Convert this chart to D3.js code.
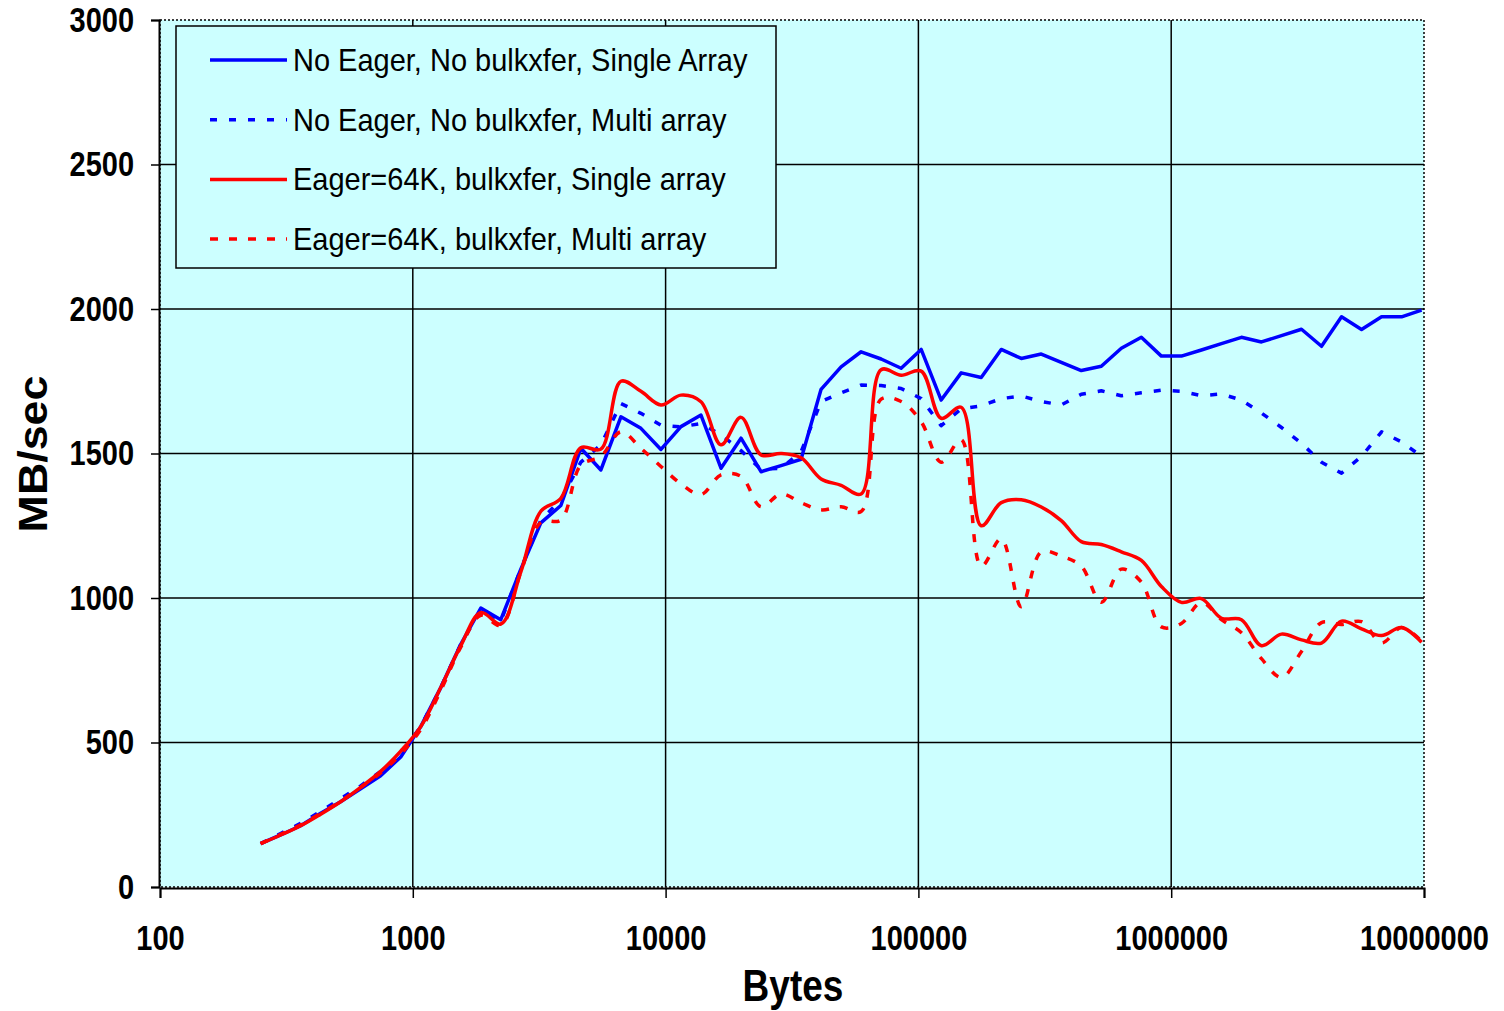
<!DOCTYPE html>
<html lang="en">
<head>
<meta charset="UTF-8">
<title>MB/sec vs Bytes</title>
<script src="https://d3js.org/d3.v7.min.js"></script>
<style>
  body { margin: 0; background: #fff; }
  text { font-family: "Liberation Sans", Arial, sans-serif; fill: #000; }
  .tall { transform-box: fill-box; transform-origin: center; transform: scaleY(1.18); }
</style>
</head>
<body>
<div id="chart"></div>
<script>
// message sizes in bytes (x)
const sizes = [250, 300, 360, 432, 518, 622, 746, 896, 1075, 1290,
  1548, 1858, 2229, 2675, 3210, 3852, 4622, 5547, 6656, 7987,
  9585, 11502, 13802, 16562, 19875, 23850, 28620, 34344, 41213, 49456,
  59347, 71216, 85460, 102552, 123062, 147674, 177209, 212651, 255181, 306217,
  367461, 440953, 529143, 634972, 761966, 914360, 1097232, 1316678, 1580014, 1896016,
  2275220, 2730264, 3276317, 3931580, 4717896, 5661475, 6793770, 8152524, 9783029];

// MB/sec for each series
const noEagerSingle = [150, 180, 212, 255, 295, 340, 385, 450, 555, 690,
  840, 965, 925, 1100, 1260, 1320, 1518, 1443, 1627, 1587,
  1514, 1593, 1633, 1449, 1553, 1437, 1458, 1480, 1722, 1800,
  1852, 1827, 1795, 1860, 1685, 1779, 1763, 1860, 1829, 1844,
  1815, 1787, 1802, 1864, 1902, 1837, 1837, 1858, 1880, 1902,
  1886, 1908, 1930, 1871, 1973, 1929, 1973, 1973, 1996];

const noEagerMulti = [150, 185, 220, 262, 305, 350, 400, 460, 555, 690,
  840, 960, 920, 1100, 1270, 1340, 1470, 1530, 1673, 1639,
  1598, 1592, 1604, 1565, 1510, 1445, 1449, 1506, 1680, 1710,
  1737, 1735, 1725, 1690, 1596, 1655, 1665, 1690, 1699, 1680,
  1668, 1705, 1717, 1700, 1710, 1719, 1715, 1700, 1706, 1685,
  1640, 1590, 1535, 1470, 1432, 1490, 1575, 1540, 1490];

const eagerSingle = [150, 180, 212, 252, 295, 345, 400, 470, 555, 690,
  835, 950, 910, 1090, 1300, 1345, 1520, 1515, 1750, 1715,
  1668, 1702, 1679, 1530, 1625, 1495, 1500, 1485, 1412, 1390,
  1360, 1790, 1771, 1785, 1622, 1660, 1250, 1330, 1340, 1315,
  1268, 1195, 1185, 1160, 1130, 1040, 985, 998, 930, 925,
  835, 875, 855, 844, 920, 893, 870, 898, 847];

const eagerMulti = [150, 182, 215, 255, 297, 345, 395, 460, 545, 680,
  830, 940, 905, 1090, 1262, 1270, 1460, 1490, 1575, 1518,
  1455, 1395, 1358, 1426, 1421, 1316, 1360, 1330, 1305, 1316,
  1299, 1688, 1680, 1610, 1470, 1548, 1110, 1205, 970, 1160,
  1145, 1110, 985, 1100, 1055, 900, 912, 985, 925, 880,
  790, 725, 815, 915, 908, 918, 845, 898, 850];

const seriesNames = [
  "No Eager, No bulkxfer, Single Array",
  "No Eager, No bulkxfer, Multi array",
  "Eager=64K, bulkxfer, Single array",
  "Eager=64K, bulkxfer, Multi array"
];

const xTicks = [100, 1000, 10000, 100000, 1000000, 10000000];
const yTicks = [0, 500, 1000, 1500, 2000, 2500, 3000];

const series = [
  { name: seriesNames[0], values: noEagerSingle, color: "#0000ff", dash: null, smooth: false },
  { name: seriesNames[1], values: noEagerMulti, color: "#0000ff", dash: "7,12", smooth: false },
  { name: seriesNames[2], values: eagerSingle, color: "#ff0000", dash: null, smooth: true },
  { name: seriesNames[3], values: eagerMulti, color: "#ff0000", dash: "8,11", smooth: true }
];

const width = 1504, height = 1011;
const plotL = 160, plotR = 1424, plotT = 20, plotB = 887;

const svg = d3.select("#chart").append("svg")
  .attr("width", width)
  .attr("height", height);

const x = d3.scaleLog().domain([100, 10000000]).range([plotL, plotR]);
const y = d3.scaleLinear().domain([0, 3000]).range([plotB, plotT]);

// plot background + dotted border
svg.append("rect")
  .attr("x", plotL).attr("y", plotT)
  .attr("width", plotR - plotL).attr("height", plotB - plotT)
  .attr("fill", "#ccffff")
  .attr("stroke", "#000")
  .attr("stroke-width", 1.5)
  .attr("stroke-dasharray", "2,2");

// grid lines
const grid = svg.append("g");
grid.selectAll(".hg")
  .data(yTicks.filter(d => d > 0 && d < 3000))
  .enter().append("line")
  .attr("x1", plotL).attr("x2", plotR)
  .attr("y1", d => y(d)).attr("y2", d => y(d))
  .attr("stroke", "#000").attr("stroke-width", 1.5);
grid.selectAll(".vg")
  .data(xTicks.filter(d => d > 100 && d < 10000000))
  .enter().append("line")
  .attr("y1", plotT).attr("y2", plotB)
  .attr("x1", d => x(d)).attr("x2", d => x(d))
  .attr("stroke", "#000").attr("stroke-width", 1.5);

// axes
const yAxis = d3.axisLeft(y).tickValues(yTicks).tickSize(8).tickPadding(17)
  .tickFormat(d3.format("d"));
const xAxis = d3.axisBottom(x).tickValues(xTicks).tickSize(10).tickPadding(24)
  .tickFormat(d3.format("d"));

const gy = svg.append("g").attr("transform", `translate(${plotL - 1},0)`).call(yAxis);
const gx = svg.append("g").attr("transform", `translate(0,${plotB + 1})`).call(xAxis);

[gy, gx].forEach(g => {
  g.select(".domain").attr("stroke", "#000").attr("stroke-width", 2);
  g.selectAll(".tick line").attr("stroke", "#000").attr("stroke-width", 1.5);
  g.selectAll(".tick text")
    .attr("class", "tall")
    .attr("font-family", "'Liberation Sans', Arial, sans-serif")
    .attr("font-size", 29)
    .attr("font-weight", "bold")
    .attr("fill", "#000");
});
gx.selectAll(".tick text").attr("dy", "0.9em");

// series lines
svg.append("clipPath").attr("id", "plotclip")
  .append("rect").attr("x", plotL).attr("y", plotT)
  .attr("width", plotR - plotL + 2).attr("height", plotB - plotT);

const lines = svg.append("g").attr("clip-path", "url(#plotclip)");
series.forEach(s => {
  const line = d3.line()
    .x((d, i) => x(sizes[i]))
    .y(d => y(d))
    .curve(s.smooth ? d3.curveCatmullRom.alpha(0.5) : d3.curveLinear);
  lines.append("path")
    .datum(s.values)
    .attr("d", line)
    .attr("fill", "none")
    .attr("stroke", s.color)
    .attr("stroke-width", 3.5)
    .attr("stroke-linejoin", "round")
    .attr("stroke-dasharray", s.dash);
});

// axis titles
svg.append("text")
  .attr("class", "tall")
  .attr("x", (plotL + plotR) / 2 + 1)
  .attr("y", 999)
  .attr("text-anchor", "middle")
  .attr("font-size", 37)
  .attr("font-weight", "bold")
  .text("Bytes");

svg.append("text")
  .attr("transform", "translate(47,454) rotate(-90) scale(1.12,1)")
  .attr("text-anchor", "middle")
  .attr("font-size", 40)
  .attr("font-weight", "bold")
  .text("MB/sec");

// legend
const legend = svg.append("g").attr("transform", "translate(176,26)");
legend.append("rect")
  .attr("width", 600).attr("height", 242)
  .attr("fill", "#ccffff")
  .attr("stroke", "#000")
  .attr("stroke-width", 1.5);

const item = legend.selectAll(".item")
  .data(series)
  .enter().append("g")
  .attr("transform", (d, i) => `translate(0,${34 + i * 59.7})`);

item.append("line")
  .attr("x1", 34).attr("x2", 111)
  .attr("stroke", d => d.color)
  .attr("stroke-width", 3.5)
  .attr("stroke-dasharray", d => d.dash);

item.append("text")
  .attr("class", "tall")
  .attr("x", 117)
  .attr("dy", "0.36em")
  .attr("font-size", 29)
  .style("transform", "scaleY(1.06)")
  .text(d => d.name);
</script>
</body>
</html>
